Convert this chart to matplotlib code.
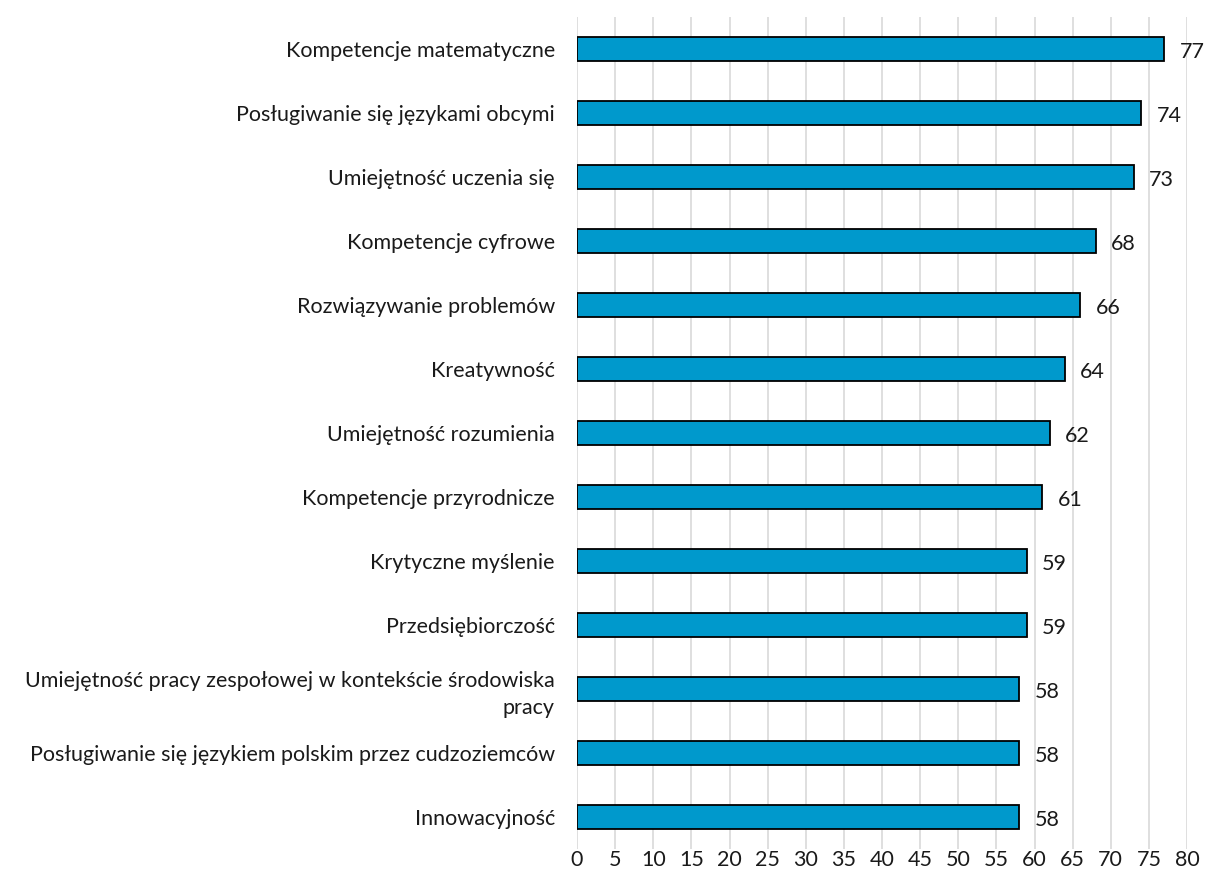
import matplotlib
matplotlib.use('Agg')
import matplotlib.pyplot as plt

# dane z wykresu (od góry do dołu)
categories = [
    'Kompetencje matematyczne',
    'Posługiwanie się językami obcymi',
    'Umiejętność uczenia się',
    'Kompetencje cyfrowe',
    'Rozwiązywanie problemów',
    'Kreatywność',
    'Umiejętność rozumienia',
    'Kompetencje przyrodnicze',
    'Krytyczne myślenie',
    'Przedsiębiorczość',
    'Umiejętność pracy zespołowej w kontekście środowiska\npracy',
    'Posługiwanie się językiem polskim przez cudzoziemców',
    'Innowacyjność',
]
values = [77, 74, 73, 68, 66, 64, 62, 61, 59, 59, 58, 58, 58]
xticks = list(range(0, 81, 5))

plt.rcParams['font.family'] = ['Lato', 'DejaVu Sans']

fig = plt.figure(figsize=(12.06, 8.93), dpi=100)
ax = fig.add_axes([577 / 1206, 1 - 849 / 893, (1187 - 577) / 1206, (849 - 17) / 893])

pos = list(range(len(categories)))
ax.barh(pos, values, height=0.36, color='#0099CC', edgecolor='black', linewidth=1.3, zorder=3)

# etykiety wartości
for p, v in zip(pos, values):
    ax.annotate(str(v), (v, p), xytext=(11, -2), textcoords='offset points',
                va='center', ha='left', fontsize=15.5, color='#1a1a1a')

ax.set_xlim(0, 80)
ax.set_ylim(len(categories) - 0.5, -0.5)
ax.set_xticks(xticks)
ax.set_yticks(pos)
ax.set_yticklabels(categories, fontsize=15.5, color='#1a1a1a', ha='right',
                   multialignment='right', linespacing=1.45)
ax.tick_params(axis='x', labelsize=15.5, colors='#1a1a1a', length=0, pad=1)
ax.tick_params(axis='y', length=0, pad=16)
ax.grid(axis='x', color='#D9D9D9', linewidth=1.2, zorder=0)
for s in ax.spines.values():
    s.set_visible(False)

plt.savefig('out.png', dpi=100)
